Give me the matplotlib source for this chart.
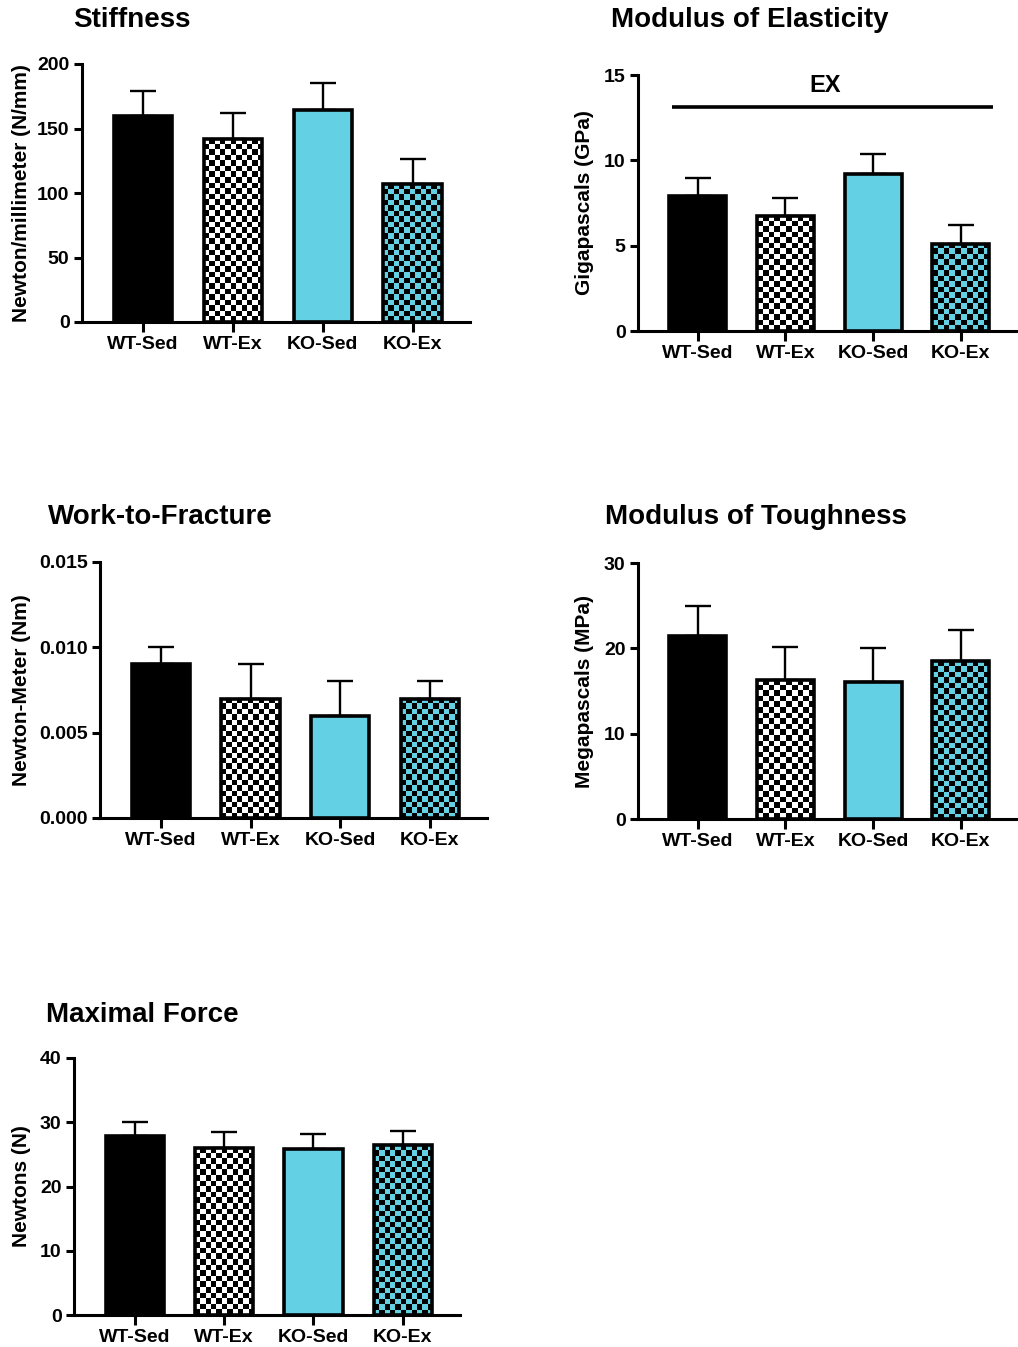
import numpy as np
import matplotlib
matplotlib.use("Agg")
import matplotlib.pyplot as plt

plt.rcParams['font.family'] = ['Liberation Sans', 'DejaVu Sans']
plt.rcParams['font.weight'] = 'bold'

groups = ["WT-Sed", "WT-Ex", "KO-Sed", "KO-Ex"]
cyan = "#63D1E3"

stiffness_mean = [160, 142, 164, 107]
stiffness_err = [19, 20, 21, 19]
elastic_mean = [7.9, 6.75, 9.2, 5.1]
elastic_err = [1.05, 1.05, 1.2, 1.1]
work_mean = [0.009, 0.007, 0.006, 0.007]
work_err = [0.001, 0.002, 0.002, 0.001]
tough_mean = [21.5, 16.3, 16.1, 18.5]
tough_err = [3.5, 3.8, 3.9, 3.6]
force_mean = [27.9, 26.0, 25.8, 26.4]
force_err = [2.1, 2.5, 2.3, 2.2]

W, H = 1018, 1347
fig = plt.figure(figsize=(W / 100, H / 100), dpi=100)

# fill style per group: (solid colour or None, checker colour or None)
fills = [("black", None), (None, "white"), (cyan, None), (None, cyan)]
CELL = 5.5  # checker cell size in pixels


def px_axes(left, top, right, bottom):
    return fig.add_axes([left / W, 1 - bottom / H, (right - left) / W, (bottom - top) / H])


def panel(rect, mean, err, ymax, yticks, fmt, title, title_xy, ylabel, ylabel_x):
    ax = px_axes(*rect)
    x = np.arange(len(groups))
    ax.set_xlim(-0.68, 3.64)
    ax.set_ylim(0, ymax)
    ax.errorbar(x, mean, yerr=[np.zeros(len(err)), err], fmt="none", ecolor="black",
                elinewidth=1.7, capsize=9.5, capthick=1.7, zorder=1)
    bars = ax.bar(x, mean, width=0.65, facecolor="none", edgecolor="black", linewidth=2.6, zorder=3)
    for b, (solid, check) in zip(bars, fills):
        if solid is not None:
            b.set_facecolor(solid)
            continue
        x0, y0 = b.get_x(), 0
        x1, y1 = x0 + b.get_width(), b.get_height()
        p0 = ax.transData.transform((x0, y0))
        p1 = ax.transData.transform((x1, y1))
        nc = max(1, int(round((p1[0] - p0[0]) / CELL)))
        nr = max(1, int(round((p1[1] - p0[1]) / CELL)))
        grid = (np.add.outer(np.arange(nr), np.arange(nc)) % 2).astype(float)
        cmap = matplotlib.colors.ListedColormap([check, "black"])
        ax.imshow(grid, cmap=cmap, extent=(x0, x1, y0, y1), aspect="auto",
                  interpolation="nearest", zorder=2, vmin=0, vmax=1)
    ax.set_xlim(-0.68, 3.64)
    ax.set_ylim(0, ymax)

    for s in ["top", "right"]:
        ax.spines[s].set_visible(False)
    for s in ["left", "bottom"]:
        ax.spines[s].set_linewidth(2.2)
    ax.set_xticks(x)
    ax.set_xticklabels(groups, fontsize=14, fontweight="bold")
    ax.set_yticks(yticks)
    ax.set_yticklabels([fmt.format(v) for v in yticks], fontsize=14, fontweight="bold")
    ax.tick_params(axis="both", width=2.2, length=6, pad=3)
    ax.tick_params(axis="x", length=7)

    fig.text(title_xy[0] / W, 1 - title_xy[1] / H, title, fontsize=20, fontweight="bold",
             ha="left", va="center")
    cy = (rect[1] + rect[3]) / 2
    fig.text(ylabel_x / W, 1 - cy / H, ylabel, fontsize=15, fontweight="bold",
             rotation=90, ha="center", va="center")
    return ax


panel((82, 64, 470, 322), stiffness_mean, stiffness_err, 200, [0, 50, 100, 150, 200], "{:g}",
      "Stiffness", (73, 20), "Newton/millimeter (N/mm)", 22)

ax2 = panel((638, 75, 1017, 331), elastic_mean, elastic_err, 15, [0, 5, 10, 15], "{:g}",
            "Modulus of Elasticity", (611, 20), "Gigapascals (GPa)", 584)
# significance bar across all groups
ax2.plot([-0.29, 3.37], [13.15, 13.15], color="black", linewidth=2.6, solid_capstyle="butt")
ax2.text(1.45, 14.4, "EX", fontsize=17, fontweight="bold", ha="center", va="center")

panel((100, 562, 487, 818), work_mean, work_err, 0.015, [0, 0.005, 0.010, 0.015], "{:.3f}",
      "Work-to-Fracture", (48, 517), "Newton-Meter (Nm)", 22)

panel((638, 563, 1017, 819), tough_mean, tough_err, 30, [0, 10, 20, 30], "{:g}",
      "Modulus of Toughness", (605, 517), "Megapascals (MPa)", 584)

panel((74, 1058, 460, 1315), force_mean, force_err, 40, [0, 10, 20, 30, 40], "{:g}",
      "Maximal Force", (46, 1015), "Newtons (N)", 22)

fig.savefig("out.png", dpi=100)
